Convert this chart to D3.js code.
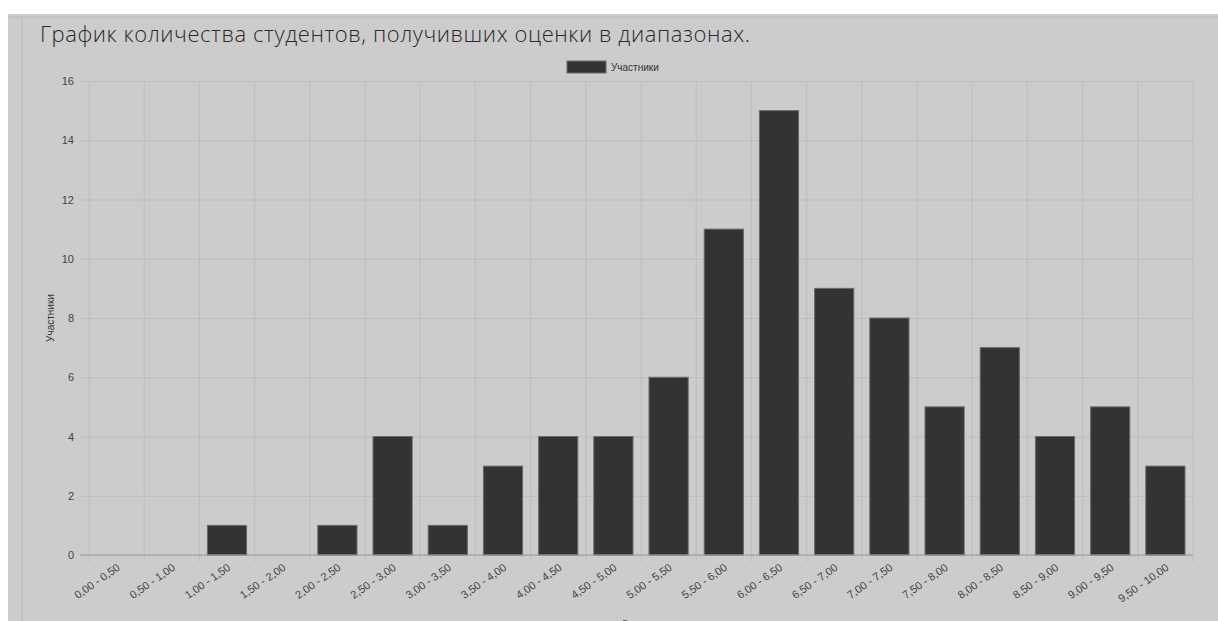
<!DOCTYPE html>
<html>
<head>
<meta charset="utf-8">
<script src="https://cdn.jsdelivr.net/npm/d3@7"></script>
<style>
  body { margin: 0; background: #fff; overflow: hidden; }
  svg { display: block; }
</style>
</head>
<body>
<svg id="drawing_region"></svg>
<script>
const categories = ["0,00 - 0,50", "0,50 - 1,00", "1,00 - 1,50", "1,50 - 2,00", "2,00 - 2,50",
    "2,50 - 3,00", "3,00 - 3,50", "3,50 - 4,00", "4,00 - 4,50", "4,50 - 5,00",
    "5,00 - 5,50", "5,50 - 6,00", "6,00 - 6,50", "6,50 - 7,00", "7,00 - 7,50",
    "7,50 - 8,00", "8,00 - 8,50", "8,50 - 9,00", "9,00 - 9,50", "9,50 - 10,00"];
const values = [0, 0, 1, 0, 1, 4, 1, 3, 4, 4, 6, 11, 15, 9, 8, 5, 7, 4, 5, 3];
const yTicks = [0, 2, 4, 6, 8, 10, 12, 14, 16];
const seriesName = "Участники";
const xTitle = "Оценки";
const title = "График количества студентов, получивших оценки в диапазонах.";

const config = {
    width: 1218,
    height: 621,
    margin: { top: 81, right: 25, bottom: 66, left: 89 }
};

const svg = d3.select('#drawing_region')
    .attr('width', config.width)
    .attr('height', config.height);

// page panel
svg.append('rect').attr('x', 8).attr('y', 14).attr('width', 1210).attr('height', 607).attr('fill', '#cccccc');
svg.append('rect').attr('x', 8).attr('y', 16).attr('width', 1210).attr('height', 3).attr('fill', '#c4c4c4');
svg.append('rect').attr('x', 21).attr('y', 19).attr('width', 2).attr('height', 602).attr('fill', '#c2c2c2');

svg.append('text')
    .attr('x', 40).attr('y', 42)
    .attr('font-family', '"Open Sans", sans-serif')
    .attr('font-size', '22px')
    .attr('font-weight', 300)
    .attr('fill', '#2a2a2a')
    .attr('textLength', 710)
    .text(title);

const inner_width = config.width - config.margin.left - config.margin.right;
const inner_height = config.height - config.margin.top - config.margin.bottom;

const chart = svg.append('g')
    .attr('transform', `translate(${config.margin.left}, ${config.margin.top})`);

const xscale = d3.scaleBand().domain(categories).range([0, inner_width])
    .paddingInner(0.29).paddingOuter(0.145);
const xgrid = d3.scaleBand().domain(categories).range([0, inner_width]);
const yscale = d3.scaleLinear().domain([0, 16]).range([inner_height, 0]);

// horizontal grid + y ticks
const yaxis = d3.axisLeft(yscale).tickValues(yTicks).tickSize(-inner_width - 9).tickPadding(6);
const yg = chart.append('g').attr('transform', 'translate(-9,0)').call(yaxis);
yg.select('.domain').remove();
yg.selectAll('line').attr('stroke', '#bdbdbd');
yg.selectAll('text').attr('font-family', 'Arial, "Liberation Sans", sans-serif')
    .attr('font-size', '11px').attr('fill', '#444');

// vertical grid lines at band boundaries
chart.append('g').selectAll('line')
    .data(categories.concat(['_end']))
    .join('line')
    .attr('x1', (d, i) => i < categories.length ? xgrid(d) : inner_width)
    .attr('x2', (d, i) => i < categories.length ? xgrid(d) : inner_width)
    .attr('y1', 0).attr('y2', inner_height + 7)
    .attr('stroke', '#bdbdbd');

// bars
chart.selectAll('rect.bar').data(values).join('rect')
    .attr('class', 'bar')
    .attr('x', (d, i) => xscale(categories[i]))
    .attr('y', d => yscale(d))
    .attr('width', xscale.bandwidth())
    .attr('height', d => yscale(0) - yscale(d))
    .attr('fill', '#333333')
    .attr('stroke', '#6a6a6a')
    .attr('stroke-width', 1);

// zero axis
chart.append('line')
    .attr('x1', -9).attr('x2', inner_width)
    .attr('y1', yscale(0)).attr('y2', yscale(0))
    .attr('stroke', '#999');

// x labels
chart.append('g').selectAll('text').data(categories).join('text')
    .attr('transform', d => `translate(${xgrid(d) + xgrid.bandwidth() / 2 + 2}, ${inner_height + 11}) rotate(-35)`)
    .attr('text-anchor', 'end')
    .attr('dy', '0.35em')
    .attr('font-family', 'Arial, "Liberation Sans", sans-serif')
    .attr('font-size', '11px')
    .attr('fill', '#444')
    .text(d => d);

// axis titles
svg.append('text')
    .attr('transform', `translate(54, ${config.margin.top + inner_height / 2}) rotate(-90)`)
    .attr('text-anchor', 'middle')
    .attr('font-family', 'Arial, "Liberation Sans", sans-serif')
    .attr('font-size', '10px')
    .attr('fill', '#333')
    .text(seriesName);

svg.append('text')
    .attr('x', 621).attr('y', 628)
    .attr('font-family', 'Arial, "Liberation Sans", sans-serif')
    .attr('font-size', '10px')
    .attr('fill', '#444')
    .text(xTitle);

// legend
const legend = svg.append('g').attr('transform', 'translate(567, 61)');
legend.append('rect').attr('width', 39).attr('height', 12).attr('fill', '#333333').attr('stroke', '#6a6a6a');
legend.append('text').attr('x', 44).attr('y', 6).attr('dy', '0.35em')
    .attr('font-family', 'Arial, "Liberation Sans", sans-serif')
    .attr('font-size', '10px').attr('fill', '#333')
    .text(seriesName);
</script>
</body>
</html>
